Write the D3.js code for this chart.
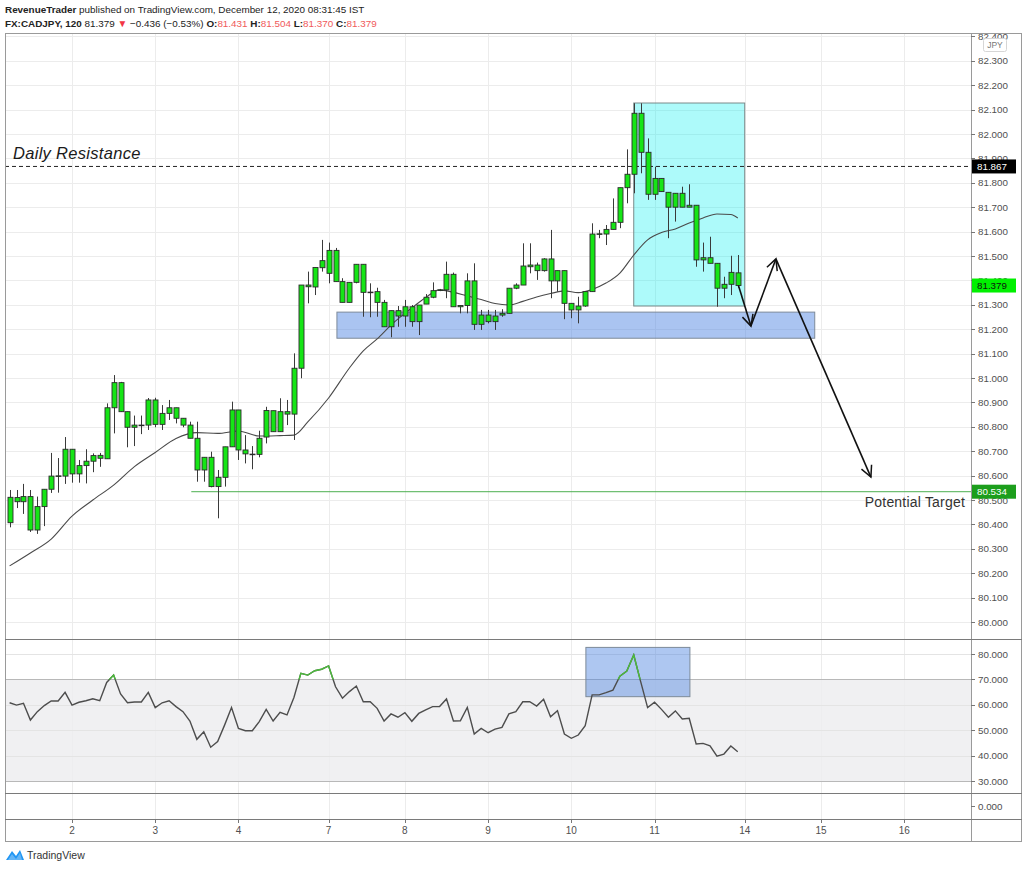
<!DOCTYPE html>
<html><head><meta charset="utf-8">
<script src="https://cdn.jsdelivr.net/npm/d3@7/dist/d3.min.js"></script>
<style>body{margin:0;background:#fff;} svg{display:block;font-family:"Liberation Sans",Arial,sans-serif;}</style>
</head><body><svg id="c" width="1024" height="870"></svg>
<script>
// ---------------- DATA ----------------
const timeLabels = ["2","3","4","7","8","9","10","11","14","15","16"];
const timeTickIdx = [9,21,33,46,57,69,81,93,106,117,129];

const opens = [80.407,80.510,80.493,80.514,80.377,80.473,80.544,80.598,80.598,80.708,80.607,80.641,80.659,80.683,80.669,80.878,80.981,80.862,80.798,80.807,
80.807,80.910,80.810,80.855,80.878,80.835,80.807,80.753,80.623,80.675,80.555,80.593,80.718,80.869,80.705,80.688,80.687,80.758,80.866,80.780,
80.862,80.852,81.040,81.381,81.373,81.452,81.429,81.523,81.395,81.310,81.392,81.466,81.351,81.354,81.310,81.210,81.276,81.254,81.292,81.231,
81.303,81.331,81.360,81.361,81.425,81.292,81.297,81.398,81.220,81.258,81.231,81.258,81.265,81.368,81.381,81.456,81.463,81.440,81.488,81.398,
81.440,81.306,81.279,81.295,81.354,81.590,81.590,81.609,81.638,81.780,81.835,82.085,81.925,81.753,81.818,81.761,81.700,81.757,81.700,81.708,
81.484,81.493,81.470,81.368,81.384,81.431];
const highs = [80.541,80.541,80.566,80.541,80.514,80.545,80.693,80.672,80.758,80.709,80.664,80.708,80.691,80.693,80.896,81.012,80.984,80.862,80.846,80.846,
80.918,80.919,80.889,80.910,80.878,80.835,80.821,80.821,80.675,80.698,80.623,80.718,80.903,80.869,80.766,80.721,80.784,80.882,80.866,80.917,
80.910,81.101,81.381,81.436,81.453,81.566,81.555,81.533,81.409,81.392,81.466,81.466,81.388,81.370,81.320,81.276,81.295,81.320,81.299,81.299,
81.344,81.392,81.365,81.477,81.432,81.297,81.429,81.470,81.279,81.279,81.279,81.282,81.368,81.388,81.552,81.552,81.473,81.491,81.607,81.440,
81.440,81.306,81.333,81.354,81.634,81.607,81.627,81.736,81.780,81.937,82.126,82.126,81.982,81.866,81.818,81.761,81.757,81.784,81.794,81.708,
81.555,81.579,81.470,81.415,81.501,81.504];
const lows = [80.388,80.467,80.443,80.369,80.361,80.393,80.529,80.530,80.566,80.571,80.571,80.568,80.614,80.636,80.669,80.773,80.861,80.716,80.721,80.770,
80.787,80.798,80.787,80.828,80.814,80.798,80.753,80.575,80.575,80.552,80.425,80.555,80.718,80.664,80.650,80.626,80.675,80.732,80.780,80.780,
80.807,80.746,80.999,81.306,81.340,81.436,81.388,81.395,81.310,81.310,81.388,81.251,81.249,81.251,81.210,81.167,81.210,81.210,81.210,81.176,
81.303,81.327,81.356,81.327,81.292,81.265,81.265,81.197,81.197,81.224,81.197,81.251,81.265,81.364,81.381,81.429,81.402,81.436,81.327,81.354,
81.241,81.245,81.224,81.292,81.354,81.573,81.545,81.609,81.614,81.716,81.757,81.839,81.730,81.730,81.764,81.573,81.641,81.700,81.700,81.456,
81.436,81.470,81.292,81.327,81.340,81.370];
const closes = [80.511,80.493,80.514,80.377,80.473,80.544,80.598,80.599,80.708,80.607,80.641,80.659,80.682,80.671,80.878,80.981,80.862,80.798,80.807,80.806,
80.910,80.810,80.855,80.878,80.835,80.807,80.753,80.623,80.675,80.555,80.593,80.718,80.869,80.705,80.689,80.687,80.753,80.867,80.780,80.862,
80.852,81.040,81.381,81.374,81.453,81.481,81.523,81.395,81.310,81.392,81.466,81.351,81.352,81.310,81.210,81.276,81.254,81.292,81.231,81.299,
81.331,81.358,81.361,81.425,81.292,81.297,81.398,81.220,81.258,81.231,81.254,81.265,81.368,81.381,81.459,81.463,81.440,81.488,81.398,81.440,
81.306,81.279,81.295,81.354,81.590,81.591,81.609,81.638,81.780,81.835,82.085,81.925,81.753,81.818,81.764,81.700,81.757,81.700,81.708,81.484,
81.493,81.470,81.368,81.384,81.433,81.379];

const maIdx = [0,3,6,9,12,15,18,21,24,27,30,33,36,39,41,43,46,49,51,53,55,58,60,62,64,66,68,70,72,74,76,78,80,82,84,86,88,90,92,94,96,98,100,102,104,105];
const maVal = [80.230,80.283,80.340,80.434,80.500,80.561,80.637,80.695,80.752,80.776,80.773,80.783,80.762,80.764,80.766,80.820,80.918,81.041,81.111,81.160,
81.217,81.287,81.330,81.361,81.351,81.336,81.322,81.305,81.299,81.314,81.332,81.346,81.357,81.350,81.363,81.389,81.430,81.504,81.566,81.596,
81.611,81.635,81.656,81.672,81.670,81.656];

const rsiVals = [60.8,59.9,60.6,54.0,57.3,59.7,61.5,61.5,64.9,59.9,61.0,61.6,62.4,61.6,68.8,71.7,64.3,60.8,61.1,61.1,
64.9,58.9,60.8,61.6,59.3,57.3,53.6,46.4,49.4,43.3,45.5,52.0,58.9,50.7,49.8,49.8,53.4,58.2,53.6,57.0,
56.0,62.9,72.4,71.7,73.4,74.0,75.3,67.1,62.6,65.2,67.4,61.2,61.2,58.6,53.6,56.4,55.1,56.9,53.5,56.6,
58.0,59.3,59.3,62.3,53.6,53.7,59.0,48.5,50.7,49.0,50.4,51.1,56.4,57.3,61.2,61.2,59.5,62.2,55.3,57.7,
48.5,46.8,48.1,51.8,63.9,63.9,64.8,65.8,71.3,73.3,79.6,69.1,58.9,61.0,58.2,55.1,57.6,54.4,54.7,44.6,
44.8,43.8,39.8,40.6,43.8,41.5];

const priceTicks = [80.0,80.1,80.2,80.3,80.4,80.5,80.6,80.7,80.8,80.9,81.0,81.1,81.2,81.3,81.4,81.5,81.6,81.7,81.8,81.9,82.0,82.1,82.2,82.3,82.4];
const rsiTicks = [30,40,50,60,70,80];
const rsiBand = [30,70];

const resistanceLevel = 81.867, resistanceText = "Daily Resistance";
const targetLevel = 80.534, targetStartIdx = 26.2, targetText = "Potential Target";
const lastPrice = 81.379;
const cyanBox = {i0:90, i1:106, hi:82.127, lo:81.295};
const supportBox = {i0:47.2, i1:116.1, hi:81.270, lo:81.163};
const rsiBox = {i0:83.1, i1:98.1, hi:82.6, lo:63.2};
const projIdx = [105.1,106.9,110.5,124.2];
const projPrice = [81.379,81.213,81.488,80.594];

// header segments: [text, bold, colour]
const header1 = [["RevenueTrader",true,"#222"],[" published on TradingView.com, December 12, 2020 08:31:45 IST",false,"#222"]];
const header2 = [["FX:CADJPY, 120",true,"#222"],[" 81.379 ",false,"#222"],["▼",false,"#f23645"],[" −0.436 (−0.53%) ",false,"#222"],
  ["O:",true,"#222"],["81.431",false,"#f05a5a"],[" H:",true,"#222"],["81.504",false,"#f05a5a"],
  [" L:",true,"#222"],["81.370",false,"#f05a5a"],[" C:",true,"#222"],["81.379",false,"#f05a5a"]];

// ---------------- LAYOUT ----------------
const svg = d3.select("#c");
const L = 5, R = 971, RA = 1022, T = 33, PB = 639, RT = 640, RB = 793, ZB = 819, AB = 842;
const x = d3.scaleLinear().domain([0,129]).range([9.6,904.2]);
const y = d3.scaleLinear().domain([80,82]).range([622,134]);
const yr = d3.scaleLinear().domain([30,80]).range([781,654]);
const fmt = d3.format(".3f");

const defs = svg.append("defs");
defs.append("clipPath").attr("id","cp").append("rect").attr("x",L).attr("y",T).attr("width",R-L).attr("height",PB-T);
defs.append("clipPath").attr("id","cpa").append("rect").attr("x",R).attr("y",T).attr("width",RA-R).attr("height",PB-T);
defs.append("clipPath").attr("id","cpr").append("rect").attr("x",L).attr("y",RT).attr("width",R-L).attr("height",yr(70)-RT);
defs.append("clipPath").attr("id","cprr").append("rect").attr("x",L).attr("y",RT).attr("width",R-L).attr("height",RB-RT);
defs.append("marker").attr("id","ah").attr("viewBox","-12 -7 14 14").attr("refX",0).attr("refY",0)
  .attr("markerWidth",14).attr("markerHeight",14).attr("markerUnits","userSpaceOnUse").attr("orient","auto")
  .append("path").attr("d","M-11,-5.5L0,0L-11,5.5").attr("fill","none").attr("stroke","#111").attr("stroke-width",1.5);

// header
function headerLine(segs, yy){
  const t = svg.append("text").attr("x",5).attr("y",yy).attr("font-size",9.9).attr("fill","#222");
  segs.forEach(([s,b,c])=>t.append("tspan").attr("fill",c).attr("font-weight",b?"bold":"normal").text(s));
}
headerLine(header1,13);
headerLine(header2,27);

// grid
const grid = svg.append("g").attr("stroke","#ececec").attr("stroke-width",1);
grid.selectAll("line.h").data(priceTicks).join("line").attr("x1",L).attr("x2",R).attr("y1",d=>Math.round(y(d))+0.5).attr("y2",d=>Math.round(y(d))+0.5).attr("clip-path","url(#cp)");
grid.selectAll("line.v").data(timeTickIdx).join("line").attr("x1",d=>Math.round(x(d))+0.5).attr("x2",d=>Math.round(x(d))+0.5).attr("y1",T).attr("y2",ZB);

// RSI band
svg.append("rect").attr("x",L).attr("width",R-L).attr("y",yr(rsiBand[1])).attr("height",yr(rsiBand[0])-yr(rsiBand[1])).attr("fill","#ededf0").attr("opacity",0.85);
svg.append("g").selectAll("line").data(rsiTicks.filter(d=>rsiBand.indexOf(d)<0)).join("line")
  .attr("x1",L).attr("x2",R).attr("y1",d=>Math.round(yr(d))+0.5).attr("y2",d=>Math.round(yr(d))+0.5).attr("stroke","#e4e4e4");
svg.append("g").selectAll("line").data(rsiBand).join("line")
  .attr("x1",L).attr("x2",R).attr("y1",d=>Math.round(yr(d))+0.5).attr("y2",d=>Math.round(yr(d))+0.5).attr("stroke","#b8b8b8");

// plot group (price)
const pg = svg.append("g").attr("clip-path","url(#cp)");
pg.append("rect").attr("x",x(supportBox.i0)).attr("width",x(supportBox.i1)-x(supportBox.i0))
  .attr("y",y(supportBox.hi)).attr("height",y(supportBox.lo)-y(supportBox.hi))
  .attr("fill","rgba(75,130,225,0.47)").attr("stroke","#7d8a99").attr("stroke-width",1);
pg.append("rect").attr("x",x(cyanBox.i0)).attr("width",x(cyanBox.i1)-x(cyanBox.i0))
  .attr("y",y(cyanBox.hi)).attr("height",y(cyanBox.lo)-y(cyanBox.hi))
  .attr("fill","rgba(0,240,240,0.32)").attr("stroke","#7a8a8a").attr("stroke-width",1);
pg.append("line").attr("x1",L).attr("x2",R).attr("y1",y(resistanceLevel)).attr("y2",y(resistanceLevel))
  .attr("stroke","#222").attr("stroke-width",1).attr("stroke-dasharray","4,3");
pg.append("text").attr("x",13).attr("y",y(resistanceLevel)-7).attr("font-size",16.5).attr("font-style","italic").attr("fill","#1a1a1a").attr("letter-spacing",0.3).text(resistanceText);
pg.append("line").attr("x1",x(targetStartIdx)).attr("x2",R).attr("y1",y(targetLevel)).attr("y2",y(targetLevel))
  .attr("stroke","#4caf50").attr("stroke-width",1);
pg.append("text").attr("x",965).attr("y",y(targetLevel)+15).attr("text-anchor","end").attr("font-size",14).attr("fill","#333").attr("letter-spacing",0.2).text(targetText);

// MA
const maPts = maIdx.map((d,i)=>[d,maVal[i]]);
pg.append("path").datum(maPts).attr("d",d3.line().x(d=>x(d[0])).y(d=>y(d[1])).curve(d3.curveMonotoneX))
  .attr("fill","none").attr("stroke","#4a4a4a").attr("stroke-width",1.1);

// candles
const candles = opens.map((o,i)=>({i,o,h:highs[i],l:lows[i],c:closes[i]}));
const cg = pg.append("g");
cg.selectAll("line").data(candles).join("line")
  .attr("x1",d=>Math.round(x(d.i))+0.5).attr("x2",d=>Math.round(x(d.i))+0.5)
  .attr("y1",d=>y(Math.max(d.h,d.o,d.c))).attr("y2",d=>y(Math.min(d.l,d.o,d.c)))
  .attr("stroke","#3a3a3a").attr("stroke-width",1);
cg.selectAll("rect").data(candles).join("rect")
  .attr("x",d=>Math.round(x(d.i))-2).attr("width",5)
  .attr("y",d=>y(Math.max(d.o,d.c)))
  .attr("height",d=>Math.max(0.6,Math.abs(y(d.o)-y(d.c))))
  .attr("fill","#16e516").attr("stroke","#2a2a2a").attr("stroke-width",0.9);

// projection arrows
for (let k=0;k<projIdx.length-1;k++){
  pg.append("line").attr("x1",x(projIdx[k])).attr("y1",y(projPrice[k])).attr("x2",x(projIdx[k+1])).attr("y2",y(projPrice[k+1]))
    .attr("stroke","#111").attr("stroke-width",1.6).attr("marker-end","url(#ah)");
}

// RSI
svg.append("rect").attr("x",x(rsiBox.i0)).attr("width",x(rsiBox.i1)-x(rsiBox.i0))
  .attr("y",yr(rsiBox.hi)).attr("height",yr(rsiBox.lo)-yr(rsiBox.hi))
  .attr("fill","rgba(75,130,225,0.45)").attr("stroke","#7d8a99");
const rsiLine = d3.line().x((d,i)=>x(i)).y(d=>yr(d));
svg.append("path").datum(rsiVals).attr("d",rsiLine).attr("fill","none").attr("stroke","#4d4d4d").attr("stroke-width",1.4).attr("clip-path","url(#cprr)");
svg.append("path").datum(rsiVals).attr("d",rsiLine).attr("fill","none").attr("stroke","#4cbb3c").attr("stroke-width",1.4).attr("clip-path","url(#cpr)");

// frame / separators
const fr = svg.append("g").attr("fill","none");
fr.append("rect").attr("x",L+0.5).attr("y",T+0.5).attr("width",RA-L-1).attr("height",AB-T-1).attr("stroke","#9a9a9a");
fr.append("line").attr("x1",R+0.5).attr("x2",R+0.5).attr("y1",T).attr("y2",AB).attr("stroke","#9a9a9a");
[PB+0.5, RB+0.5, ZB+0.5].forEach(v=>fr.append("line").attr("x1",L).attr("x2",RA).attr("y1",v).attr("y2",v).attr("stroke","#7a7a7a"));

// right axis (price)
const ax = svg.append("g").attr("clip-path","url(#cpa)").attr("font-size",9.8).attr("fill","#4f4f4f");
priceTicks.forEach(p=>{
  ax.append("line").attr("x1",R).attr("x2",R+4).attr("y1",Math.round(y(p))+0.5).attr("y2",Math.round(y(p))+0.5).attr("stroke","#777");
  ax.append("text").attr("x",978).attr("y",y(p)+3.5).text(fmt(p));
});
svg.append("rect").attr("x",983.5).attr("y",38.5).attr("width",23).attr("height",13).attr("rx",2).attr("fill","#fff").attr("stroke","#d6d6d6");
svg.append("text").attr("x",995).attr("y",48).attr("text-anchor","middle").attr("font-size",8.5).attr("fill","#777").text("JPY");

// price tags
function tag(v,bg,fg){
  const yy = y(v);
  svg.append("rect").attr("x",R+1).attr("y",yy-7).attr("width",44).attr("height",14).attr("fill",bg);
  svg.append("text").attr("x",977).attr("y",yy+3.5).attr("font-size",9.8).attr("fill",fg).text(fmt(v));
}
tag(resistanceLevel,"#000","#fff");
tag(lastPrice,"#00f000","#111");
tag(targetLevel,"#1c9e1c","#fff");

// RSI axis
const rax = svg.append("g").attr("font-size",9.8).attr("fill","#4f4f4f");
rsiTicks.forEach(v=>{
  rax.append("line").attr("x1",R).attr("x2",R+4).attr("y1",Math.round(yr(v))+0.5).attr("y2",Math.round(yr(v))+0.5).attr("stroke","#777");
  rax.append("text").attr("x",978).attr("y",yr(v)+3.5).text(fmt(v));
});
rax.append("line").attr("x1",R).attr("x2",R+4).attr("y1",806.5).attr("y2",806.5).attr("stroke","#777");
rax.append("text").attr("x",978).attr("y",809.5).text(fmt(0));

// time axis
const tx = svg.append("g").attr("font-size",10).attr("fill","#4f4f4f").attr("text-anchor","middle");
timeTickIdx.forEach((d,i)=>{
  tx.append("line").attr("x1",Math.round(x(d))+0.5).attr("x2",Math.round(x(d))+0.5).attr("y1",ZB).attr("y2",ZB+4).attr("stroke","#777");
  tx.append("text").attr("x",x(d)).attr("y",834).text(timeLabels[i]);
});

// TradingView logo
const lg = svg.append("g").attr("transform","translate(6,848)");
lg.append("path").attr("d","M0,12 L6,3 L10,8 L14,2 L18,12 Z").attr("fill","#2196f3");
lg.append("path").attr("d","M2,12 L6,6 L10,11 L14,5 L16,12 Z").attr("fill","#64b5f6");
svg.append("text").attr("x",27).attr("y",859).attr("font-size",10.5).attr("fill","#333").text("TradingView");
</script></body></html>
